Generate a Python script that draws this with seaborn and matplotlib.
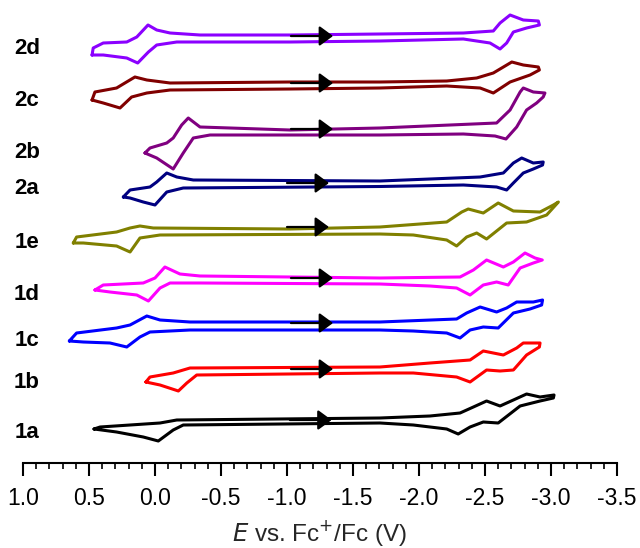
import numpy as np
import matplotlib
matplotlib.use("Agg")
import matplotlib.pyplot as plt
from matplotlib.ticker import MultipleLocator
import seaborn as sns

# ------------------------------------------
#   CV data (E in V vs Fc+/Fc, current in a.u.)
#   each loop: forward (upper) branch then return (lower) branch
# ------------------------------------------

names = ["2d", "2c", "2b", "2a", "1e", "1d", "1c", "1b", "1a"]
colors = ["#8B00FF", "#800000", "#800080", "#000080", "#808000",
          "#FF00FF", "#0000FF", "#FF0000", "#000000"]
offsets = [425, 378, 331, 279, 232, 183, 137, 92, 42]

E_2d = [0.477, 0.468, 0.392, 0.214, 0.138, 0.053, -0.013, -0.114, -0.341, -1.023, -1.704, -2.336,
        -2.563, -2.614, -2.690, -2.790, -2.904, -2.912,
        -2.815, -2.715, -2.664, -2.614, -2.538, -2.336, -1.704, -1.023, -0.165, -0.013, 0.050,
        0.131, 0.214, 0.392, 0.477]
i_2d = [-17, -10, -5, -4, 1, 13, 8, 5, 3, 3, 4, 5,
        7, 15, 23, 18, 17, 13,
        10, 6, -5, -11, -5, -1, -3, -4, -4, -7, -14,
        -25, -20, -17, -17]

E_2c = [0.477, 0.455, 0.291, 0.228, 0.152, 0.062, -0.114, -1.023, -1.704, -2.210, -2.437, -2.563,
        -2.703, -2.790, -2.904, -2.912,
        -2.841, -2.690, -2.563, -2.463, -2.210, -1.704, -1.023, -0.114, 0.062, 0.177, 0.265,
        0.392, 0.477]
i_2c = [-15, -7, -3, 2, 8, 5, 2, 3, 3, 4, 7, 12,
        23, 20, 18, 15,
        10, 3, -8, -3, -1, -3, -4, -5, -8, -12, -23,
        -18, -15]

E_2b = [0.076, 0.038, -0.089, -0.138, -0.202, -0.252, -0.341, -1.023, -1.704, -2.588, -2.690,
        -2.766, -2.790, -2.866, -2.954, -2.941,
        -2.891, -2.815, -2.740, -2.659, -2.576, -2.336, -1.704, -1.023, -0.417, -0.290, -0.214,
        -0.138, -0.013, 0.076]
i_2b = [-21, -16, -11, -6, 7, 14, 5, 2, 4, 9, 22,
        40, 44, 40, 39, 35,
        29, 22, 5, -7, -4, -2, -3, -3, -3, -6, -21,
        -37, -26, -21]

E_2a = [0.240, 0.189, 0.038, -0.013, -0.089, -0.165, -0.290, -1.704, -2.463, -2.639, -2.715,
        -2.778, -2.866, -2.941, -2.936,
        -2.866, -2.790, -2.715, -2.664, -2.588, -2.336, -1.704, -0.214, -0.089, 0.000, 0.089,
        0.189, 0.240]
i_2a = [-13, -6, -3, 2, 11, 7, 4, 3, 7, 11, 21,
        26, 21, 22, 19,
        15, 11, 1, -6, -3, -1, -2.5, -4, -8, -21, -18,
        -14, -13]

E_1e = [0.619, 0.594, 0.291, 0.189, 0.114, 0.013, -1.023, -1.704, -2.210, -2.324, -2.373,
        -2.487, -2.600, -2.715, -2.917, -3.018, -3.056,
        -2.967, -2.815, -2.664, -2.512, -2.437, -2.361, -2.285, -2.210, -1.957, -1.704, -0.038,
        0.114, 0.189, 0.291, 0.543, 0.619]
i_1e = [-12, -6, -1, 3, 5, 3, 2, 4, 9, 19, 22,
        18, 28, 20, 19, 26, 29,
        16, 9, 8, -8, -2, -6, -15, -9, -4, -3, -4,
        -7, -21, -15, -12, -12]

E_1d = [0.455, 0.392, 0.089, 0.000, -0.075, -0.189, -0.341, -1.704, -2.311, -2.412, -2.512,
        -2.639, -2.715, -2.803, -2.879, -2.934,
        -2.866, -2.766, -2.676, -2.588, -2.487, -2.387, -2.285, -2.083, -1.704, -0.341, -0.114,
        -0.038, 0.050, 0.138, 0.341, 0.455]
i_1d = [-10, -5, -3, 2, 13, 6, 4, 2, 3, 10, 20,
        13, 18, 27, 22, 20,
        17, 12, -5, -2, -5, -15, -8, -6, -4, -3, -3,
        -8, -21, -15, -12, -10]

E_1c = [0.649, 0.594, 0.291, 0.189, 0.062, -0.038, -0.265, -1.704, -2.285, -2.361, -2.463,
        -2.588, -2.664, -2.740, -2.866, -2.936, -2.929,
        -2.841, -2.715, -2.600, -2.487, -2.387, -2.311, -2.210, -1.957, -1.704, -0.265, 0.038,
        0.114, 0.214, 0.341, 0.543, 0.649]
i_1c = [-15, -7, -2, 1, 10, 6, 4, 4, 7, 13, 19,
        14, 18, 24, 24, 26, 21,
        17, 13, -2, -1, -4, -12, -7, -5, -4, -4, -6,
        -11, -21, -17, -16, -15]

E_1b = [0.069, 0.038, -0.138, -0.214, -0.265, -1.704, -2.083, -2.387, -2.487, -2.639, -2.740,
        -2.790, -2.917, -2.912,
        -2.815, -2.715, -2.614, -2.512, -2.387, -2.285, -1.957, -1.704, -0.316, -0.241, -0.177,
        -0.038, 0.069]
i_1b = [-11, -6, -2, 1, 3, 4, 8, 11, 20, 16, 23,
        28, 28, 24,
        16, 1, 0, 1, -11, -6, -2, -2, -4, -12, -20,
        -14, -11]

E_1a = [0.462, 0.416, -0.038, -0.165, -1.704, -2.083, -2.311, -2.412, -2.512, -2.614, -2.715,
        -2.815, -2.917, -3.023, -3.018,
        -2.917, -2.766, -2.600, -2.487, -2.387, -2.297, -2.210, -1.957, -1.704, -0.214, -0.138,
        -0.025, 0.089, 0.291, 0.462]
i_1a = [-8, -6, -2, 1, 3, 5, 8, 14, 20, 15, 21,
        27, 24, 26, 23,
        20, 15, -2, -1, -6, -13, -8, -4, -2, -4, -9,
        -20, -16, -11, -8]

E_all = [E_2d, E_2c, E_2b, E_2a, E_1e, E_1d, E_1c, E_1b, E_1a]
i_all = [i_2d, i_2c, i_2b, i_2a, i_1e, i_1d, i_1c, i_1b, i_1a]

# scan direction arrows (start / tip potential, current on forward branch)
arrow_start = [-1.030, -1.030, -1.030, -1.000, -1.000, -1.030, -1.030, -1.030, -1.022]
arrow_tip = [-1.349, -1.349, -1.349, -1.318, -1.318, -1.349, -1.349, -1.349, -1.338]
arrow_i = [2, 2, 3, 1, 4, 2, 3, 2, 1]

label_y = [415, 363, 310, 275, 221, 168, 123, 81, 31]

xticks = [1.0, 0.5, 0.0, -0.5, -1.0, -1.5, -2.0, -2.5, -3.0, -3.5]
xtick_labels = ["1.0", "0.5", "0.0", "-0.5", "-1.0", "-1.5", "-2.0", "-2.5", "-3.0", "-3.5"]

# ------------------------------------------
#   PLOT
# ------------------------------------------

sns.set_theme(style="white")
plt.rcParams["font.family"] = ["Liberation Sans", "DejaVu Sans"]
plt.rcParams["axes.unicode_minus"] = False

fig = plt.figure(figsize=(6.4, 5.48), dpi=100)
ax = fig.add_axes([23 / 640, 85 / 548, 594 / 640, 463 / 548])

for E, cur, off, col in zip(E_all, i_all, offsets, colors):
    sns.lineplot(
        x=E,
        y=np.add(cur, off),
        sort=False,
        estimator=None,
        color=col,
        lw=2.2,
        ax=ax,
        solid_joinstyle="round",
        solid_capstyle="round",
    )

for x0, x1, cur, off in zip(arrow_start, arrow_tip, arrow_i, offsets):
    ax.annotate(
        "",
        xy=(x1, cur + off),
        xytext=(x0, cur + off),
        arrowprops=dict(
            arrowstyle="-|>,head_length=0.75,head_width=0.55",
            mutation_scale=11,
            color="black",
            lw=1.6,
            shrinkA=0,
            shrinkB=0,
        ),
    )

for name, y in zip(names, label_y):
    ax.text(0.970, y, name, ha="center", va="center",
            fontsize=16, fontweight="bold", color="black")

ax.set_xlim(1.0, -3.5)
ax.set_ylim(0, 463)

for side in ["top", "left", "right"]:
    ax.spines[side].set_visible(False)
ax.spines["bottom"].set_linewidth(1.5)
ax.spines["bottom"].set_color("black")

ax.set_yticks([])
ax.set_xticks(xticks)
ax.set_xticklabels(xtick_labels)
ax.xaxis.set_minor_locator(MultipleLocator(0.1))
ax.tick_params(axis="x", which="major", direction="out", length=9, width=1.5,
               colors="black", labelsize=16.5, pad=8, bottom=True)
ax.tick_params(axis="x", which="minor", direction="out", length=4.5, width=1.2,
               colors="black", bottom=True)

ax.set_xlabel("$\\it{E}$ vs. Fc$^{+}$/Fc (V)", fontsize=17.5, labelpad=6)
ax.set_ylabel("")

fig.savefig("out.png", dpi=100)
